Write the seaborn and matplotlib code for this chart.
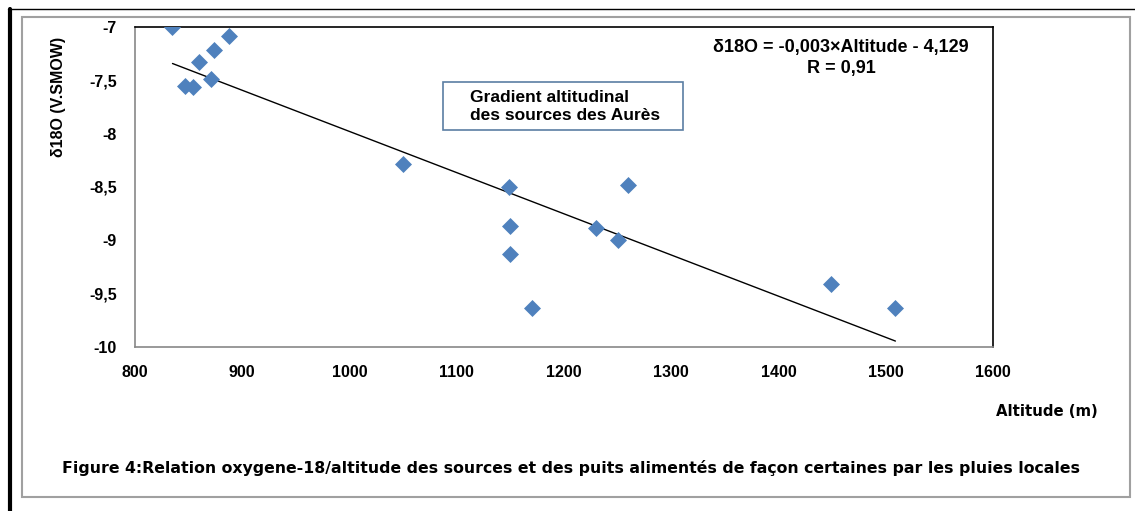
import numpy as np
import pandas as pd
import matplotlib
matplotlib.use("Agg")
import matplotlib.pyplot as plt
import seaborn as sns
from matplotlib.lines import Line2D
from matplotlib.patches import Rectangle
from matplotlib.ticker import FuncFormatter

# altitude (m) and delta 18O values
altitude = [835, 874, 888, 860, 871, 847, 854, 1050, 1149, 1260,
            1150, 1230, 1250, 1150, 1170, 1449, 1509]
d18o = [-7.00, -7.22, -7.08, -7.33, -7.49, -7.55, -7.56, -8.28, -8.50, -8.48,
        -8.87, -8.88, -9.00, -9.13, -9.63, -9.41, -9.63]
x_ticks = [800, 900, 1000, 1100, 1200, 1300, 1400, 1500, 1600]
y_ticks = [-10, -9.5, -9, -8.5, -8, -7.5, -7]

df = pd.DataFrame({"Altitude": altitude, "d18O": d18o})

sns.set_style("white", {"text.color": "black", "xtick.color": "black",
                        "ytick.color": "black", "axes.labelcolor": "black"})
plt.rcParams["font.family"] = ["Liberation Sans", "DejaVu Sans"]

fig = plt.figure(figsize=(11.35, 5.11), dpi=100)
ax = fig.add_axes([0.1189, 0.321, 0.756, 0.6262])

sns.scatterplot(data=df, x="Altitude", y="d18O", marker="D", s=75,
                color="#4F81BD", edgecolor="#4F81BD", linewidth=0, ax=ax, zorder=3)

# linear trend over the data range
slope, inter = np.polyfit(df["Altitude"], df["d18O"], 1)
xl = np.array([df["Altitude"].min(), df["Altitude"].max()])
ax.plot(xl, slope * xl + inter, color="black", lw=1.0, zorder=2)

ax.set_xlim(800, 1600)
ax.set_ylim(-10, -7)
ax.set_xticks(x_ticks)
ax.set_yticks(y_ticks)

def fmt(v, pos):
    s = ("%g" % v).replace(".", ",")
    return s

ax.yaxis.set_major_formatter(FuncFormatter(fmt))
ax.tick_params(axis="both", direction="out", length=5, width=1, color="#888888",
               labelcolor="black", labelsize=11.5, pad=8)
for lab in ax.get_xticklabels() + ax.get_yticklabels():
    lab.set_fontweight("bold")

ax.spines["left"].set_color("#888888")
ax.spines["bottom"].set_color("#888888")
ax.spines["top"].set_color("black")
ax.spines["right"].set_color("black")
for sp in ax.spines.values():
    sp.set_linewidth(1.2)

ax.set_xlabel("")
ax.set_ylabel("")
fig.text(58 / 1135, 1 - 97 / 511, "δ18O (V.SMOW)", rotation=90, ha="center",
         va="center", fontsize=11.5, fontweight="bold", color="black")
fig.text(1047 / 1135, 1 - 412 / 511, "Altitude (m)", ha="center", va="center",
         fontsize=10.7, fontweight="bold", family="DejaVu Sans", color="black")

fig.text(841 / 1135, 1 - 47 / 511, "δ18O = -0,003×Altitude - 4,129", ha="center",
         va="center", fontsize=13, fontweight="bold", color="black")
fig.text(841 / 1135, 1 - 68 / 511, "R = 0,91", ha="center", va="center",
         fontsize=13, fontweight="bold", color="black")

fig.add_artist(Rectangle((443 / 1135, 1 - 130 / 511), 240 / 1135, 48 / 511,
                         transform=fig.transFigure, facecolor="white",
                         edgecolor="#5B7EA3", lw=1.2, zorder=5))
fig.text(470 / 1135, 1 - 106 / 511, "Gradient altitudinal\ndes sources des Aurès",
         ha="left", va="center", fontsize=12.5, fontweight="bold", linespacing=1.25,
         color="black", zorder=6)

fig.text(62 / 1135, 1 - 468 / 511,
         "Figure 4:Relation oxygene-18/altitude des sources et des puits alimentés de façon certaines par les pluies locales",
         ha="left", va="center", fontsize=11.3, fontweight="bold", family="DejaVu Sans",
         color="black")

# page frame
fig.add_artist(Rectangle((22 / 1135, 1 - 497 / 511), 1108 / 1135, 480 / 511,
                         transform=fig.transFigure, fill=False,
                         edgecolor="#A0A0A0", lw=1.5))
fig.add_artist(Line2D([10 / 1135, 10 / 1135], [0, 1 - 9 / 511],
                      transform=fig.transFigure, color="black", lw=3))
fig.add_artist(Line2D([8 / 1135, 1], [1 - 9 / 511, 1 - 9 / 511],
                      transform=fig.transFigure, color="black", lw=1))

fig.savefig("out.png", dpi=100)
